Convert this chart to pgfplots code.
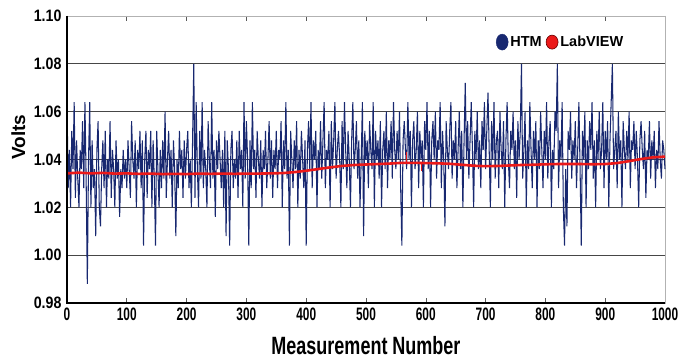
\documentclass[border=0pt]{standalone}
\usepackage{pgfplots}
\pgfplotsset{compat=1.18}
\usepackage{fontspec}
\setmainfont{Liberation Sans}
\newfontfamily\xtickfont{Liberation Sans}[FakeStretch=0.66]
\newfontfamily\ytickfont{Liberation Sans}[FakeStretch=0.86]
\newfontfamily\xlabfont{Liberation Sans}[FakeStretch=0.72]
\definecolor{htm}{RGB}{24,40,112}
\definecolor{lv}{RGB}{235,25,25}
\definecolor{gridc}{RGB}{70,70,70}
\begin{document}
\begin{tikzpicture}
\begin{axis}[name=ax, scale only axis, width=598pt, height=287pt,
  xmin=0, xmax=1000, ymin=0.98, ymax=1.10, clip=false,
  xtick={0,100,200,300,400,500,600,700,800,900,1000},
  xticklabels={0,100,200,300,400,500,600,700,800,900,1000},
  ytick={0.98,1.00,1.02,1.04,1.06,1.08,1.10},
  yticklabels={0.98,1.00,1.02,1.04,1.06,1.08,1.10},
  ymajorgrids, grid style={gridc, line width=0.9pt},
  axis line style={draw=gray!60, line width=0.8pt},
  tick align=inside, major tick length=5pt,
  xtick style={gray!70!black, line width=0.6pt},
  ytick style={draw=none},
  xticklabel style={font=\xtickfont\bfseries\fontsize{18}{20}\selectfont, yshift=-1pt},
  yticklabel style={font=\ytickfont\bfseries\fontsize{16.5}{18}\selectfont, xshift=-2pt},
  xlabel={Measurement Number},
  xlabel style={font=\xlabfont\bfseries\fontsize{25}{28}\selectfont, at={(axis description cs:0.5,0)}, anchor=base, yshift=-52pt},
  ylabel={Volts},
  ylabel style={font=\bfseries\fontsize{19}{22}\selectfont, at={(axis description cs:-0.0702,0.578)}, anchor=base},
  legend style={at={(rel axis cs:0.712,0.909)}, anchor=west, draw=none, fill=none, legend columns=2,
    font=\bfseries\fontsize{14.5}{16}\selectfont, /tikz/every even column/.append style={column sep=2pt}},
]
\addlegendimage{legend image code/.code={\fill[htm] (4pt,0) ellipse (6pt and 8pt);}}
\addlegendentry{HTM}
\addlegendimage{legend image code/.code={\draw[fill=lv, draw=black!60!red, line width=0.6pt] (4pt,0) ellipse (6pt and 7pt);}}
\addlegendentry{LabVIEW}

\addplot[htm, line width=1.05pt, forget plot] coordinates {
(0,1.064)(2,1.028)(4,1.044)(6,1.020)(8,1.052)(10,1.036)(12,1.064)(14,1.024)(16,1.048)(18,1.032)(20,1.020)(22,1.044)(24,1.036)(26,1.056)(28,1.028)(30,1.064)(32,1.032)(34,0.988)(36,1.040)(38,1.064)(40,1.020)(42,1.048)(44,1.028)(46,1.036)(48,1.008)
(50,1.044)(52,1.056)(54,1.020)(56,1.012)(58,1.036)(60,1.048)(62,1.028)(64,1.052)(66,1.020)(68,1.040)(70,1.032)(72,1.056)(74,1.024)(76,1.044)(78,1.036)(80,1.020)(82,1.048)(84,1.032)(86,1.040)(88,1.016)(90,1.036)(92,1.028)(94,1.044)(96,1.032)(98,1.040)
(100,1.028)(102,1.048)(104,1.036)(106,1.024)(108,1.056)(110,1.040)(112,1.032)(114,1.048)(116,1.020)(118,1.044)(120,1.036)(122,1.052)(124,1.028)(126,1.048)(128,1.004)(130,1.040)(132,1.052)(134,1.024)(136,1.044)(138,1.036)(140,1.052)(142,1.020)(144,1.048)(146,1.032)(148,1.004)
(150,1.052)(152,1.036)(154,1.020)(156,1.044)(158,1.028)(160,1.048)(162,1.032)(164,1.060)(166,1.024)(168,1.040)(170,1.052)(172,1.032)(174,1.044)(176,1.020)(178,1.048)(180,1.036)(182,1.008)(184,1.040)(186,1.028)(188,1.052)(190,1.036)(192,1.044)(194,1.024)(196,1.048)(198,1.032)
(200,1.044)(202,1.052)(204,1.028)(206,1.040)(208,1.020)(210,1.048)(212,1.080)(214,1.024)(216,1.064)(218,1.036)(220,1.020)(222,1.052)(224,1.032)(226,1.064)(228,1.028)(230,1.044)(232,1.036)(234,1.020)(236,1.056)(238,1.040)(240,1.028)(242,1.064)(244,1.032)(246,1.044)(248,1.016)
(250,1.048)(252,1.036)(254,1.052)(256,1.040)(258,1.028)(260,1.044)(262,1.020)(264,1.052)(266,1.008)(268,1.048)(270,1.036)(272,1.004)(274,1.044)(276,1.052)(278,1.028)(280,1.040)(282,1.032)(284,1.048)(286,1.024)(288,1.052)(290,1.036)(292,1.044)(294,1.020)(296,1.064)(298,1.032)
(300,1.056)(302,1.040)(304,1.004)(306,1.048)(308,1.028)(310,1.064)(312,1.036)(314,1.044)(316,1.024)(318,1.052)(320,1.040)(322,1.032)(324,1.048)(326,1.020)(328,1.044)(330,1.036)(332,1.052)(334,1.028)(336,1.040)(338,1.056)(340,1.032)(342,1.048)(344,1.024)(346,1.044)(348,1.036)
(350,1.052)(352,1.028)(354,1.044)(356,1.040)(358,1.056)(360,1.020)(362,1.048)(364,1.036)(366,1.064)(368,1.032)(370,1.044)(372,1.004)(374,1.052)(376,1.040)(378,1.028)(380,1.048)(382,1.036)(384,1.056)(386,1.020)(388,1.044)(390,1.032)(392,1.052)(394,1.040)(396,1.028)(398,1.048)
(400,1.004)(402,1.044)(404,1.056)(406,1.036)(408,1.064)(410,1.028)(412,1.048)(414,1.040)(416,1.052)(418,1.020)(420,1.044)(422,1.036)(424,1.056)(426,1.032)(428,1.048)(430,1.064)(432,1.028)(434,1.044)(436,1.040)(438,1.052)(440,1.020)(442,1.056)(444,1.036)(446,1.048)(448,1.064)
(450,1.032)(452,1.044)(454,1.052)(456,1.040)(458,1.020)(460,1.056)(462,1.036)(464,1.064)(466,1.044)(468,1.028)(470,1.052)(472,1.040)(474,1.020)(476,1.048)(478,1.064)(480,1.036)(482,1.044)(484,1.056)(486,1.032)(488,1.048)(490,1.020)(492,1.040)(494,1.064)(496,1.008)(498,1.052)
(500,1.040)(502,1.048)(504,1.028)(506,1.056)(508,1.044)(510,1.036)(512,1.064)(514,1.020)(516,1.052)(518,1.040)(520,1.048)(522,1.032)(524,1.056)(526,1.020)(528,1.044)(530,1.052)(532,1.036)(534,1.060)(536,1.028)(538,1.048)(540,1.040)(542,1.056)(544,1.032)(546,1.064)(548,1.044)
(550,1.036)(552,1.052)(554,1.040)(556,1.060)(558,1.028)(560,1.004)(562,1.048)(564,1.056)(566,1.044)(568,1.036)(570,1.064)(572,1.040)(574,1.052)(576,1.020)(578,1.048)(580,1.056)(582,1.036)(584,1.044)(586,1.060)(588,1.028)(590,1.052)(592,1.040)(594,1.048)(596,1.020)(598,1.056)
(600,1.044)(602,1.064)(604,1.036)(606,1.052)(608,1.020)(610,1.048)(612,1.056)(614,1.040)(616,1.060)(618,1.032)(620,1.048)(622,1.044)(624,1.064)(626,1.028)(628,1.052)(630,1.040)(632,1.012)(634,1.056)(636,1.044)(638,1.036)(640,1.052)(642,1.064)(644,1.032)(646,1.048)(648,1.040)
(650,1.056)(652,1.028)(654,1.044)(656,1.060)(658,1.036)(660,1.052)(662,1.020)(664,1.048)(666,1.072)(668,1.040)(670,1.056)(672,1.032)(674,1.048)(676,1.064)(678,1.044)(680,1.020)(682,1.052)(684,1.040)(686,1.060)(688,1.036)(690,1.048)(692,1.028)(694,1.056)(696,1.044)(698,1.064)
(700,1.036)(702,1.052)(704,1.068)(706,1.044)(708,1.020)(710,1.056)(712,1.040)(714,1.064)(716,1.032)(718,1.048)(720,1.052)(722,1.028)(724,1.060)(726,1.044)(728,1.036)(730,1.056)(732,1.020)(734,1.048)(736,1.064)(738,1.040)(740,1.028)(742,1.052)(744,1.044)(746,1.060)(748,1.036)
(750,1.048)(752,1.024)(754,1.056)(756,1.040)(758,1.052)(760,1.080)(762,1.032)(764,1.044)(766,1.060)(768,1.020)(770,1.048)(772,1.036)(774,1.064)(776,1.044)(778,1.028)(780,1.052)(782,1.040)(784,1.056)(786,1.020)(788,1.048)(790,1.036)(792,1.060)(794,1.044)(796,1.028)(798,1.052)
(800,1.040)(802,1.064)(804,1.032)(806,1.048)(808,1.056)(810,1.020)(812,1.044)(814,1.036)(816,1.060)(818,1.052)(820,1.080)(822,1.028)(824,1.048)(826,1.040)(828,1.064)(830,1.020)(832,1.004)(834,1.036)(836,1.012)(838,1.052)(840,1.044)(842,1.060)(844,1.032)(846,1.048)(848,1.040)
(850,1.056)(852,1.028)(854,1.044)(856,1.064)(858,1.036)(860,1.004)(862,1.052)(864,1.040)(866,1.060)(868,1.020)(870,1.048)(872,1.036)(874,1.056)(876,1.044)(878,1.064)(880,1.032)(882,1.048)(884,1.020)(886,1.052)(888,1.040)(890,1.060)(892,1.036)(894,1.044)(896,1.064)(898,1.028)
(900,1.052)(902,1.040)(904,1.056)(906,1.020)(908,1.048)(910,1.064)(912,1.080)(914,1.036)(916,1.044)(918,1.052)(920,1.028)(922,1.060)(924,1.040)(926,1.048)(928,1.020)(930,1.056)(932,1.044)(934,1.036)(936,1.052)(938,1.040)(940,1.060)(942,1.028)(944,1.048)(946,1.044)(948,1.056)
(950,1.036)(952,1.052)(954,1.040)(956,1.020)(958,1.048)(960,1.056)(962,1.044)(964,1.036)(966,1.052)(968,1.024)(970,1.044)(972,1.040)(974,1.056)(976,1.032)(978,1.048)(980,1.040)(982,1.052)(984,1.028)(986,1.044)(988,1.036)(990,1.056)(992,1.040)(994,1.032)(996,1.048)(998,1.044)
(1000,1.036)
};

\addplot[lv, line width=2.6pt, forget plot] coordinates {
(0,1.0342)(20,1.0345)(40,1.0342)(60,1.0344)(80,1.0341)(100,1.0342)(120,1.0340)(140,1.0341)(160,1.0339)(180,1.0340)(200,1.0339)(220,1.0341)(240,1.0340)(260,1.0341)(280,1.0340)(300,1.0341)(320,1.0341)(340,1.0342)(360,1.0343)(380,1.0347)(400,1.0353)(420,1.0360)(440,1.0367)(460,1.0373)(480,1.0377)(500,1.0379)(520,1.0381)(540,1.0383)(560,1.0386)(580,1.0386)(600,1.0385)(620,1.0384)(640,1.0382)(660,1.0378)(680,1.0374)(700,1.0372)(720,1.0373)(740,1.0375)(760,1.0377)(780,1.0378)(800,1.0380)(820,1.0381)(840,1.0381)(860,1.0381)(880,1.0380)(900,1.0381)(920,1.0385)(940,1.0393)(960,1.0402)(980,1.0409)(1000,1.0412)
};
\addplot[lv, line width=1pt, forget plot] coordinates {(568,1.0386)(568,1.0430)};
\addplot[lv, line width=1pt, forget plot] coordinates {(593,1.0385)(593,1.0350)};

\draw[black, line width=2pt] (rel axis cs:0,1) -- (rel axis cs:0,0) -- (rel axis cs:1,0);
\end{axis}
\pgfresetboundingbox
\path ([xshift=-67pt,yshift=-57pt]ax.south west) rectangle ([xshift=13pt,yshift=16pt]ax.north east);
\end{tikzpicture}
\end{document}
